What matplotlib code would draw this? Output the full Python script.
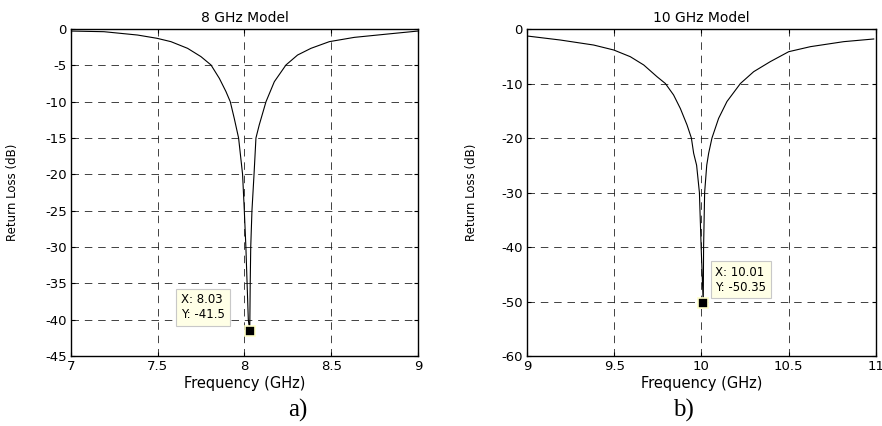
import matplotlib
matplotlib.use('Agg')
import matplotlib.pyplot as plt

plt.rcParams['font.family'] = ['DejaVu Sans']

# 8 GHz model
f8=[7.000,7.190,7.384,7.496,7.576,7.672,7.749,7.807,7.855,7.893,7.918,7.941,
    7.966,7.989,7.999,8.008,8.015,8.022,8.030,
    8.031,8.033,8.036,8.043,8.055,8.066,8.085,8.124,8.172,8.239,8.306,8.383,
    8.489,8.633,8.825,9.000]
rl8=[-0.28,-0.37,-0.83,-1.28,-1.74,-2.66,-3.8,-4.95,-6.79,-8.6,-10.0,-12.3,
     -15.0,-20.0,-25.0,-30.0,-35.0,-40.0,-41.5,
     -40.0,-35.0,-30.0,-25.0,-20.0,-15.0,-13.2,-10.0,-7.25,-4.95,-3.58,-2.66,
     -1.74,-1.15,-0.69,-0.28]

# 10 GHz model
f10=[9.000,9.191,9.382,9.497,9.592,9.669,9.745,9.793,9.840,9.879,9.917,9.942,
     9.955,9.972,9.988,9.998,10.010,
     10.012,10.018,10.030,10.041,10.060,10.098,10.146,10.223,10.299,10.394,
     10.500,10.624,10.815,10.987]
rl10=[-1.28,-2.02,-2.94,-3.85,-5.08,-6.6,-8.75,-10.0,-12.1,-14.6,-17.6,-20.0,
      -22.8,-25.0,-30.0,-40.0,-50.35,
      -40.0,-30.0,-25.0,-22.8,-20.0,-16.4,-13.3,-10.0,-7.83,-5.99,
      -4.16,-3.24,-2.32,-1.83]

panels=[
    dict(f=f8,rl=rl8,title='8 GHz Model',xlim=(7,9),ylim=(-45,0),
         xt=[7,7.5,8,8.5,9],yt=[-45,-40,-35,-30,-25,-20,-15,-10,-5,0],
         tip=(8.03,-41.5),txt='X: 8.03\nY: -41.5',txy=(7.635,-38.3),
         pos=[0.0805,0.1643,0.3934,0.7676],lab='a)',labx=0.338,ylx=-0.15),
    dict(f=f10,rl=rl10,title='10 GHz Model',xlim=(9,11),ylim=(-60,0),
         xt=[9,9.5,10,10.5,11],yt=[-60,-50,-40,-30,-20,-10,0],
         tip=(10.01,-50.35),txt='X: 10.01\nY: -50.35',txy=(10.08,-46.0),
         pos=[0.5975,0.1643,0.3957,0.7676],lab='b)',labx=0.775,ylx=-0.14),
]

fig=plt.figure(figsize=(8.82,4.26),dpi=100)

for p in panels:
    ax=fig.add_axes(p['pos'])
    ax.plot(p['f'],p['rl'],color='black',lw=0.8)
    ax.plot(*p['tip'],marker='s',ms=7,mfc='black',mec='#ffffc8',mew=1.2)
    ax.text(p['txy'][0],p['txy'][1],p['txt'],fontsize=8.5,va='center',ha='left',
            linespacing=1.2,
            bbox=dict(boxstyle='square,pad=0.4',fc='#ffffe6',ec='#c8c8c8',lw=0.8))
    ax.set_xlim(*p['xlim'])
    ax.set_ylim(*p['ylim'])
    ax.set_xticks(p['xt'])
    ax.set_xticklabels(['%g'%v for v in p['xt']])
    ax.set_yticks(p['yt'])
    ax.set_yticklabels(['%g'%v for v in p['yt']])
    ax.grid(True,color='#222222',lw=0.6,linestyle=(0,(9,7)))
    ax.tick_params(direction='in',length=3,width=0.8,labelsize=9.5,
                   top=True,right=True,pad=3)
    for s in ax.spines.values():
        s.set_linewidth(1.0)
    ax.set_title(p['title'],fontsize=10,pad=5)
    ax.set_xlabel('Frequency (GHz)',fontsize=10.5)
    ax.xaxis.set_label_coords(0.5,-0.06)
    ax.set_ylabel('Return Loss (dB)',fontsize=8.5)
    ax.yaxis.set_label_coords(p['ylx'],0.5)
    fig.text(p['labx'],0.037,p['lab'],fontsize=18,family='Liberation Serif',
             ha='center',va='center')

fig.savefig('out.png',dpi=100)
